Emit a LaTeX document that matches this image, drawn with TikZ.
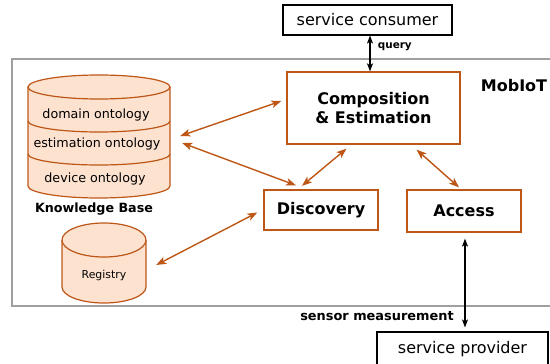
\documentclass[tikz,border=0pt]{standalone}
\usepackage{fontspec}
\setmainfont{DejaVu Sans}
\usetikzlibrary{arrows.meta,calc}
\definecolor{rust}{RGB}{190,86,22}
\definecolor{peach}{RGB}{253,226,208}
\definecolor{framegray}{RGB}{160,160,160}

\begin{document}
\begin{tikzpicture}[x=1pt,y=-1pt,
  box/.style={draw=rust,line width=1.3pt,inner sep=0pt,align=center,font=\bfseries\fontsize{16}{19}\selectfont},
  ext/.style={draw=black,line width=1.1pt,inner sep=0pt,font=\fontsize{16}{19}\selectfont},
  cyl/.style={draw=rust,fill=peach,line width=1.2pt},
  link/.style={rust,line width=1.4pt,{Stealth[length=10pt,width=7.5pt,inset=2.5pt]}-{Stealth[length=10pt,width=7.5pt,inset=2.5pt]}},
  bar/.style={black,line width=1.2pt,{Stealth[length=8pt,width=6pt,inset=2pt]}-{Stealth[length=8pt,width=6pt,inset=2pt]}}]
\useasboundingbox (0,0) rectangle (550,364);

\draw[framegray,line width=1.5pt] (12,59) rectangle (560,306);

\node[ext,minimum width=169pt,minimum height=30pt] (cons) at (367.5,20) {service consumer};
\node[ext,minimum width=171pt,minimum height=34pt] (prov) at (462.5,349) {service provider};
\node[box,minimum width=173pt,minimum height=72pt] (comp) at (373.5,108) {Composition\\\& Estimation};
\node[box,minimum width=114pt,minimum height=40pt] (disc) at (321,210) {Discovery};
\node[box,minimum width=114pt,minimum height=42pt] (acc) at (464,211) {Access};
\node[font=\bfseries\fontsize{16}{19}\selectfont] (mob) at (514,86) {MobIoT};

\draw[cyl] (28,87) -- (28,186) arc[start angle=180,end angle=0,x radius=71,y radius=12] -- (170,87);
\draw[cyl] (99,87) ellipse [x radius=71,y radius=12];
\draw[rust,line width=1.2pt] (28,121) arc[start angle=180,end angle=0,x radius=71,y radius=11];
\draw[rust,line width=1.2pt] (28,154) arc[start angle=180,end angle=0,x radius=71,y radius=11];
\node[minimum width=142pt,minimum height=123pt] (kb) at (99,136.5) {};
\node[font=\fontsize{12.7}{15}\selectfont] (dom) at (96,115) {domain ontology};
\node[font=\fontsize{12.7}{15}\selectfont] (est) at (97,144) {estimation ontology};
\node[font=\fontsize{12.7}{15}\selectfont] (dev) at (95,179) {device ontology};
\node[font=\bfseries\fontsize{12.7}{15}\selectfont] (kbl) at (94,209) {Knowledge Base};

\draw[cyl] (62,240) -- (62,287) arc[start angle=180,end angle=0,x radius=42,y radius=16] -- (146,240);
\draw[cyl] (104,240) ellipse [x radius=42,y radius=17];
\node[minimum width=84pt,minimum height=82pt] (reg) at (104,263) {};
\node[font=\fontsize{10.9}{13}\selectfont] (regl) at (104,275) {Registry};

\draw[bar] (cons.south -| 370,0) -- (comp.north -| 370,0)
  node[pos=0.3,right=4pt,font=\bfseries\fontsize{10.4}{12}\selectfont] {query};
\draw[bar] ($(acc.south)+(1,6)$) -- ($(prov.north)+(2.5,-4)$);
\node[font=\bfseries\fontsize{12.9}{15}\selectfont] (sens) at (377,316) {sensor measurement};

\draw[link] ($(kb.east)+(10,-0.5)$) -- ($(comp.west)+(-5,-7)$);
\draw[link] ($(kb.east)+(12,6.5)$) -- ($(disc.north)+(-25,-4)$);
\draw[link] ($(comp.south)+(-27,4)$) -- ($(disc.north)+(-19,-3.5)$);
\draw[link] ($(comp.south)+(43,5)$) -- ($(acc.north)+(-5,-2)$);
\draw[link] ($(reg.east)+(10,2)$) -- ($(disc.west)+(-6,2.5)$);
\end{tikzpicture}
\end{document}
